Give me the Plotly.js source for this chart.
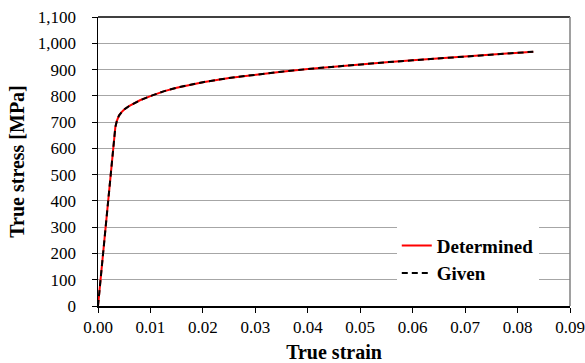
<!DOCTYPE html>
<html>
<head>
<meta charset="utf-8">
<script src="https://cdn.plot.ly/plotly-3.0.1.min.js"></script>
<style>html,body{margin:0;padding:0;background:#fff;}#chart{width:585px;height:363px;}</style>
</head>
<body>
<div id="chart"></div>
<script>
// True strain / true stress [MPa]
var strain = [0.000, 0.0010, 0.0020, 0.0030, 0.0033, 0.0036, 0.0040, 0.0045, 0.0050, 0.0060, 0.0070, 0.0080, 0.0100, 0.0125, 0.0150, 0.0200, 0.0250, 0.0300, 0.0350, 0.0400, 0.0450, 0.0500, 0.0550, 0.0600, 0.0650, 0.0700, 0.0750, 0.0800, 0.0830];
var stressDetermined = [0, 210, 420, 630, 680, 705, 725, 738, 748, 762, 773, 783, 799, 817, 831, 852, 868, 881, 892, 902, 911, 920, 928, 935, 942, 949, 955, 964, 968];
var stressGiven = [0, 210, 420, 630, 680, 705, 725, 738, 748, 762, 773, 783, 799, 817, 831, 852, 868, 881, 892, 902, 911, 920, 928, 935, 942, 949, 955, 964, 968];
var seriesNames = ["Determined", "Given"];
var xTickVals = [0, 0.01, 0.02, 0.03, 0.04, 0.05, 0.06, 0.07, 0.08, 0.09];
var yTickVals = [0, 100, 200, 300, 400, 500, 600, 700, 800, 900, 1000, 1100];

var FONT = "Times New Roman";

var traces = [
  {x: strain, y: stressDetermined, name: seriesNames[0], type: "scatter", mode: "lines",
   line: {color: "#ff0000", width: 2}},
  {x: strain, y: stressGiven, name: seriesNames[1], type: "scatter", mode: "lines",
   line: {color: "#000000", width: 2, dash: "6px,4px"}}
];

var layout = {
  width: 585, height: 363,
  margin: {l: 98, r: 14.5, t: 17, b: 57.3, pad: 0},
  paper_bgcolor: "#fff", plot_bgcolor: "#fff",
  font: {family: FONT, color: "#000", size: 17},
  showlegend: true,
  legend: {x: 0.633, y: 0.275, xanchor: "left", yanchor: "top", bgcolor: "#fff",
           font: {family: FONT, size: 19, weight: "bold", color: "#000"},
           itemwidth: 30},
  xaxis: {
    range: [0, 0.09], tickvals: xTickVals, tickformat: ".2f",
    showgrid: false, zeroline: false,
    showline: true, linecolor: "#000", linewidth: 2,
    ticks: "outside", ticklen: 5, tickcolor: "#000", tickwidth: 1,
    tickfont: {family: FONT, size: 17},
    title: {text: "True strain", font: {family: FONT, size: 20, weight: "bold"}, standoff: 9}
  },
  yaxis: {
    range: [0, 1100], tickvals: yTickVals, tickformat: ",d",
    showgrid: true, gridcolor: "#a6a6a6", gridwidth: 1, zeroline: false,
    showline: true, linecolor: "#000", linewidth: 1.5,
    ticks: "outside", ticklen: 5, tickcolor: "#000", tickwidth: 1,
    ticklabelstandoff: 12,
    tickfont: {family: FONT, size: 17},
    title: {text: "True stress [MPa]", font: {family: FONT, size: 20, weight: "bold"}, standoff: 8}
  },
  shapes: [
    {type: "line", xref: "paper", yref: "paper", x0: 0, x1: 1, y0: 1, y1: 1, line: {color: "#000", width: 1.5}},
    {type: "line", xref: "paper", yref: "paper", x0: 1, x1: 1, y0: 0, y1: 1, line: {color: "#808080", width: 1.5}}
  ]
};

Plotly.newPlot("chart", traces, layout, {displayModeBar: false, staticPlot: true});
</script>
</body>
</html>
